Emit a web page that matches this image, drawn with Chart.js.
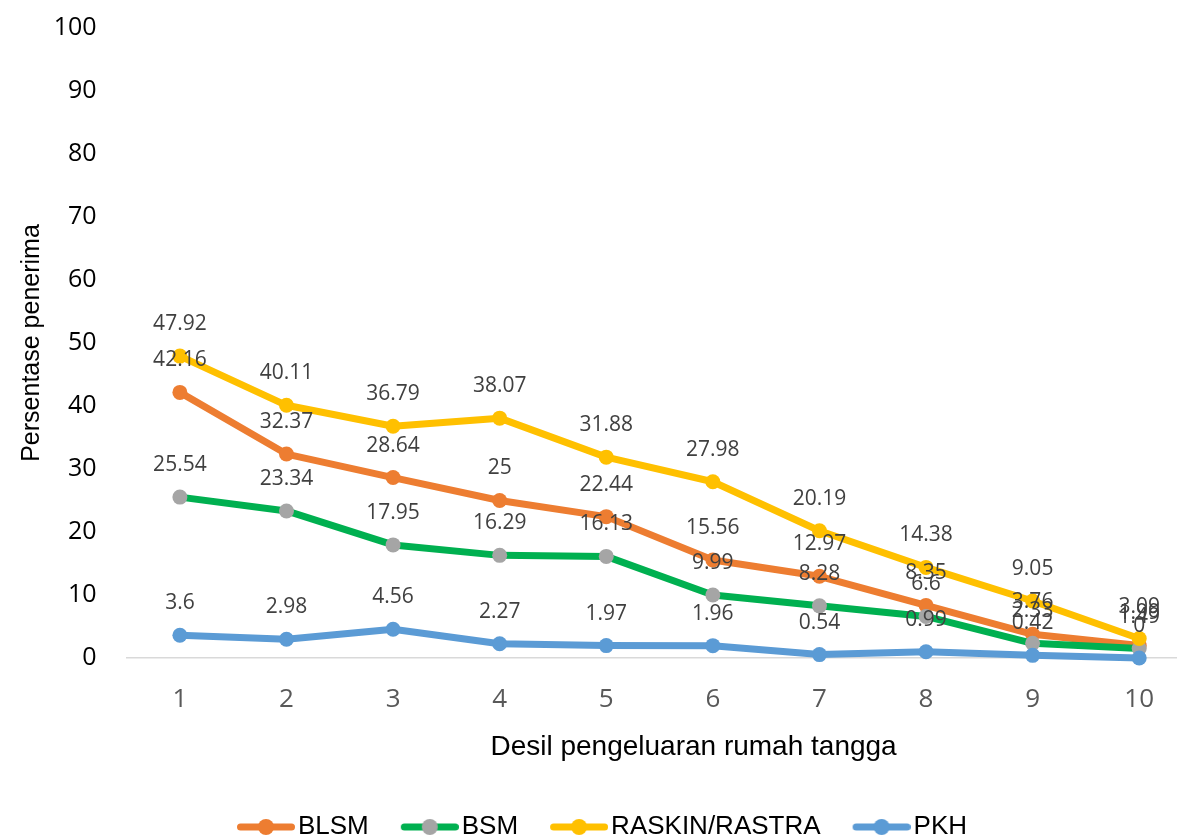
<!DOCTYPE html>
<html>
<head>
<meta charset="utf-8">
<title>Persentase penerima bantuan menurut desil pengeluaran</title>
<script src="https://cdn.jsdelivr.net/npm/chart.js@4.4.1/dist/chart.umd.min.js"></script>
<style>
  html, body { margin: 0; padding: 0; background: #fff; overflow: hidden; }
  #wrap { width: 1200px; height: 850px; }
</style>
</head>
<body>
<div id="wrap"><canvas id="chart" width="1200" height="850"></canvas></div>
<script>
// Household expenditure deciles
const deciles = ['1', '2', '3', '4', '5', '6', '7', '8', '9', '10'];

// Share of households receiving each programme (%)
const blsm = [42.16, 32.37, 28.64, 25, 22.44, 15.56, 12.97, 8.35, 3.76, 1.99];
const bsm = [25.54, 23.34, 17.95, 16.29, 16.13, 9.99, 8.28, 6.6, 2.33, 1.49];
const raskin = [47.92, 40.11, 36.79, 38.07, 31.88, 27.98, 20.19, 14.38, 9.05, 3.09];
const pkh = [3.6, 2.98, 4.56, 2.27, 1.97, 1.96, 0.54, 0.99, 0.42, 0];

// Value axis ticks
const yTicks = [0, 10, 20, 30, 40, 50, 60, 70, 80, 90, 100];

const seriesNames = ['BLSM', 'BSM', 'RASKIN/RASTRA', 'PKH'];
const lineColors = ['#ED7D31', '#00B050', '#FFC000', '#5B9BD5'];
const markerColors = ['#ED7D31', '#A5A5A5', '#FFC000', '#5B9BD5'];

// Legend swatch: a short thick line with a round marker in the middle
function makeLegendIcon(lineColor, markerColor) {
  const c = document.createElement('canvas');
  c.width = 76; c.height = 18;
  const g = c.getContext('2d');
  g.strokeStyle = lineColor;
  g.lineWidth = 7;
  g.lineCap = 'round';
  g.beginPath();
  g.moveTo(21.5, 9);
  g.lineTo(72.5, 9);
  g.stroke();
  g.fillStyle = markerColor;
  g.beginPath();
  g.arc(47, 9, 8, 0, Math.PI * 2);
  g.fill();
  return c;
}
const legendIcons = lineColors.map((c, i) => makeLegendIcon(c, markerColors[i]));

// Value labels above every point
const pointLabels = {
  id: 'pointLabels',
  afterDatasetsDraw(chart) {
    const ctx = chart.ctx;
    ctx.save();
    ctx.font = '21px "Open Sans"';
    ctx.fillStyle = '#404040';
    ctx.textAlign = 'center';
    ctx.textBaseline = 'middle';
    chart.data.datasets.forEach((ds, di) => {
      const meta = chart.getDatasetMeta(di);
      meta.data.forEach((pt, i) => {
        ctx.fillText(String(ds.data[i]), pt.x, pt.y - 32);
      });
    });
    ctx.restore();
  }
};

// Category axis title, placed below the tick labels
const xAxisTitle = {
  id: 'xAxisTitle',
  afterDraw(chart) {
    const ctx = chart.ctx;
    const area = chart.chartArea;
    ctx.save();
    ctx.font = '28px "Liberation Sans"';
    ctx.fillStyle = '#000';
    ctx.textAlign = 'center';
    ctx.textBaseline = 'middle';
    ctx.fillText('Desil pengeluaran rumah tangga', (area.left + area.right) / 2 + 34, area.bottom + 89);
    ctx.restore();
  }
};

function series(label, data, idx, order) {
  return {
    label: label,
    data: data,
    borderColor: lineColors[idx],
    backgroundColor: lineColors[idx],
    borderWidth: 7,
    borderJoinStyle: 'round',
    borderCapStyle: 'round',
    tension: 0,
    pointRadius: 7.5,
    pointHoverRadius: 7.5,
    pointBorderWidth: 0,
    pointBackgroundColor: markerColors[idx],
    pointBorderColor: markerColors[idx],
    clip: false,
    order: order
  };
}

new Chart(document.getElementById('chart'), {
  type: 'line',
  data: {
    labels: deciles,
    datasets: [
      series(seriesNames[0], blsm, 0, 4),
      series(seriesNames[1], bsm, 1, 3),
      series(seriesNames[2], raskin, 2, 2),
      series(seriesNames[3], pkh, 3, 1)
    ]
  },
  options: {
    responsive: false,
    animation: false,
    devicePixelRatio: 1,
    layout: { padding: { left: 0, right: 4, top: 28, bottom: 0 } },
    plugins: {
      tooltip: { enabled: false },
      legend: {
        position: 'bottom',
        labels: {
          usePointStyle: true,
          pointStyleWidth: 56,
          padding: 24,
          color: '#000',
          font: { family: 'Liberation Sans', size: 26 },
          sort: (a, b) => a.datasetIndex - b.datasetIndex,
          generateLabels(chart) {
            const items = Chart.defaults.plugins.legend.labels.generateLabels(chart);
            items.forEach(it => { it.pointStyle = legendIcons[it.datasetIndex]; });
            return items;
          }
        }
      }
    },
    scales: {
      x: {
        offset: true,
        grid: { display: false, drawTicks: false },
        border: { display: true, color: '#D9D9D9', width: 1.5 },
        ticks: {
          color: '#595959',
          padding: 26,
          font: { family: 'Open Sans', size: 26 }
        },
        afterFit(scale) { scale.height = 132; }
      },
      y: {
        min: 0,
        max: 100,
        grid: { display: false, drawTicks: false },
        border: { display: false },
        ticks: {
          color: '#000',
          padding: 30,
          font: { family: 'Open Sans', size: 25 }
        },
        afterBuildTicks(scale) { scale.ticks = yTicks.map(v => ({ value: v })); },
        afterFit(scale) {
          scale.width = 126.6;
          scale.paddingTop = 0;
          scale.paddingBottom = 0;
        },
        title: {
          display: true,
          text: 'Persentase penerima',
          color: '#000',
          padding: { top: 17, bottom: 0 },
          font: { family: 'Liberation Sans', size: 25 }
        }
      }
    }
  },
  plugins: [pointLabels, xAxisTitle]
});
</script>
</body>
</html>
